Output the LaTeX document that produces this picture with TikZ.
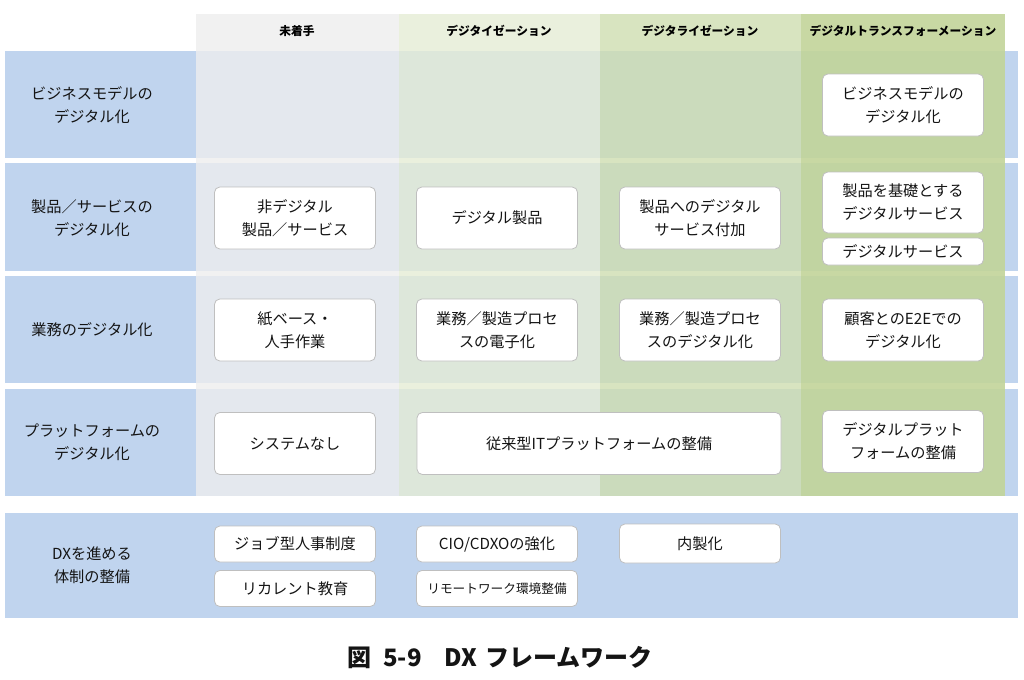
\documentclass[tikz,border=0pt]{standalone}
\usepackage{fontspec}
\usepackage{xcolor}
\setmainfont{Noto Sans CJK JP}
\definecolor{rowcolor}{RGB}{192, 212, 238}
\definecolor{graycolor}{RGB}{238, 238, 238}
\definecolor{digicolor}{RGB}{229, 236, 213}
\definecolor{dlzcolor}{RGB}{206, 221, 176}
\definecolor{dxcolor}{RGB}{194, 212, 153}
\definecolor{boxcolor}{RGB}{191, 191, 191}
\definecolor{textcolor}{RGB}{20, 20, 20}

\begin{document}
\begin{tikzpicture}[x=0.75pt, y=-0.75pt,
        cell/.style={draw=boxcolor, fill=white, rounded corners=4pt, line width=0.6pt,
                minimum width=120.75pt, minimum height=46.5pt, inner sep=0pt,
                align=center, text=textcolor, font=\fontsize{11.4}{17.25}\selectfont},
        rowname/.style={align=center, text=textcolor, font=\fontsize{11.4}{17.25}\selectfont},
        head/.style={text=black, font=\fontsize{8.8}{10}\selectfont\bfseries}]
        \useasboundingbox (0, 0) rectangle (1024, 679);
        % Bands {{{
        \fill[rowcolor] (5, 51) rectangle (1018, 158);
        \fill[rowcolor] (5, 163) rectangle (1018, 271);
        \fill[rowcolor] (5, 276) rectangle (1018, 383);
        \fill[rowcolor] (5, 389) rectangle (1018, 496);
        \fill[rowcolor] (5, 513) rectangle (1018, 618);
        \fill[graycolor, fill opacity=0.8] (196, 14) rectangle (399, 496);
        \fill[digicolor, fill opacity=0.8] (399, 14) rectangle (600, 496);
        \fill[dlzcolor, fill opacity=0.8] (600, 14) rectangle (801, 496);
        \fill[dxcolor, fill opacity=0.9] (801, 14) rectangle (1005, 496);
        % }}}
        % Headers {{{
        \node[head] (none) at (297, 31) {未着手};
        \node[head] (dgz) at (499, 31) {デジタイゼーション};
        \node[head] (dlz) at (700, 31) {デジタライゼーション};
        \node[head] (dx) at (903, 31) {デジタルトランスフォーメーション};
        % }}}
        % Row names {{{
        \node[rowname] (bizrow) at (92, 105) {ビジネスモデルの\\デジタル化};
        \node[rowname] (prodrow) at (92, 218) {製品／サービスの\\デジタル化};
        \node[rowname] (oprow) at (92, 330) {業務のデジタル化};
        \node[rowname] (platrow) at (92, 442) {プラットフォームの\\デジタル化};
        \node[rowname] (orgrow) at (92, 565) {DXを進める\\体制の整備};
        % }}}
        % Boxes {{{
        \node[cell] (bizdx) at (903, 105) {ビジネスモデルの\\デジタル化};
        \node[cell] (prodnone) at (295, 218) {非デジタル\\製品／サービス};
        \node[cell] (proddgz) at (497, 218) {デジタル製品};
        \node[cell] (proddlz) at (700, 218) {製品へのデジタル\\サービス付加};
        \node[cell, minimum height=45.75pt] (proddx) at (903, 202.5) {製品を基礎とする\\デジタルサービス};
        \node[cell, minimum height=20.25pt] (servdx) at (903, 251.5) {デジタルサービス};
        \node[cell] (opnone) at (295, 330) {紙ベース・\\人手作業};
        \node[cell] (opdgz) at (497, 330) {業務／製造プロセ\\スの電子化};
        \node[cell] (opdlz) at (700, 330) {業務／製造プロセ\\スのデジタル化};
        \node[cell] (opdx) at (903, 330) {顧客とのE2Eでの\\デジタル化};
        \node[cell] (platnone) at (295, 443.5) {システムなし};
        \node[cell, minimum width=273pt] (platit) at (599, 443.5) {従来型ITプラットフォームの整備};
        \node[cell] (platdx) at (903, 441.5) {デジタルプラット\\フォームの整備};
        \node[cell, minimum height=27pt] (job) at (295, 544) {ジョブ型人事制度};
        \node[cell, minimum height=27pt] (recur) at (295, 588.5) {リカレント教育};
        \node[cell, minimum height=27pt] (cio) at (497, 544) {CIO/CDXOの強化};
        \node[cell, minimum height=27pt, font=\fontsize{9.5}{11}\selectfont] (remote) at (497, 588.5) {リモートワーク環境整備};
        \node[cell, minimum height=29.25pt] (inhouse) at (700, 543.5) {内製化};
        % }}}
        \node[text=textcolor, font=\fontsize{18}{20}\selectfont\bfseries] (caption) at (500, 658) {図\hspace{0.5em}5-9\hspace{0.95em}DX\hspace{0.35em}フレームワーク};
\end{tikzpicture}
\end{document}
